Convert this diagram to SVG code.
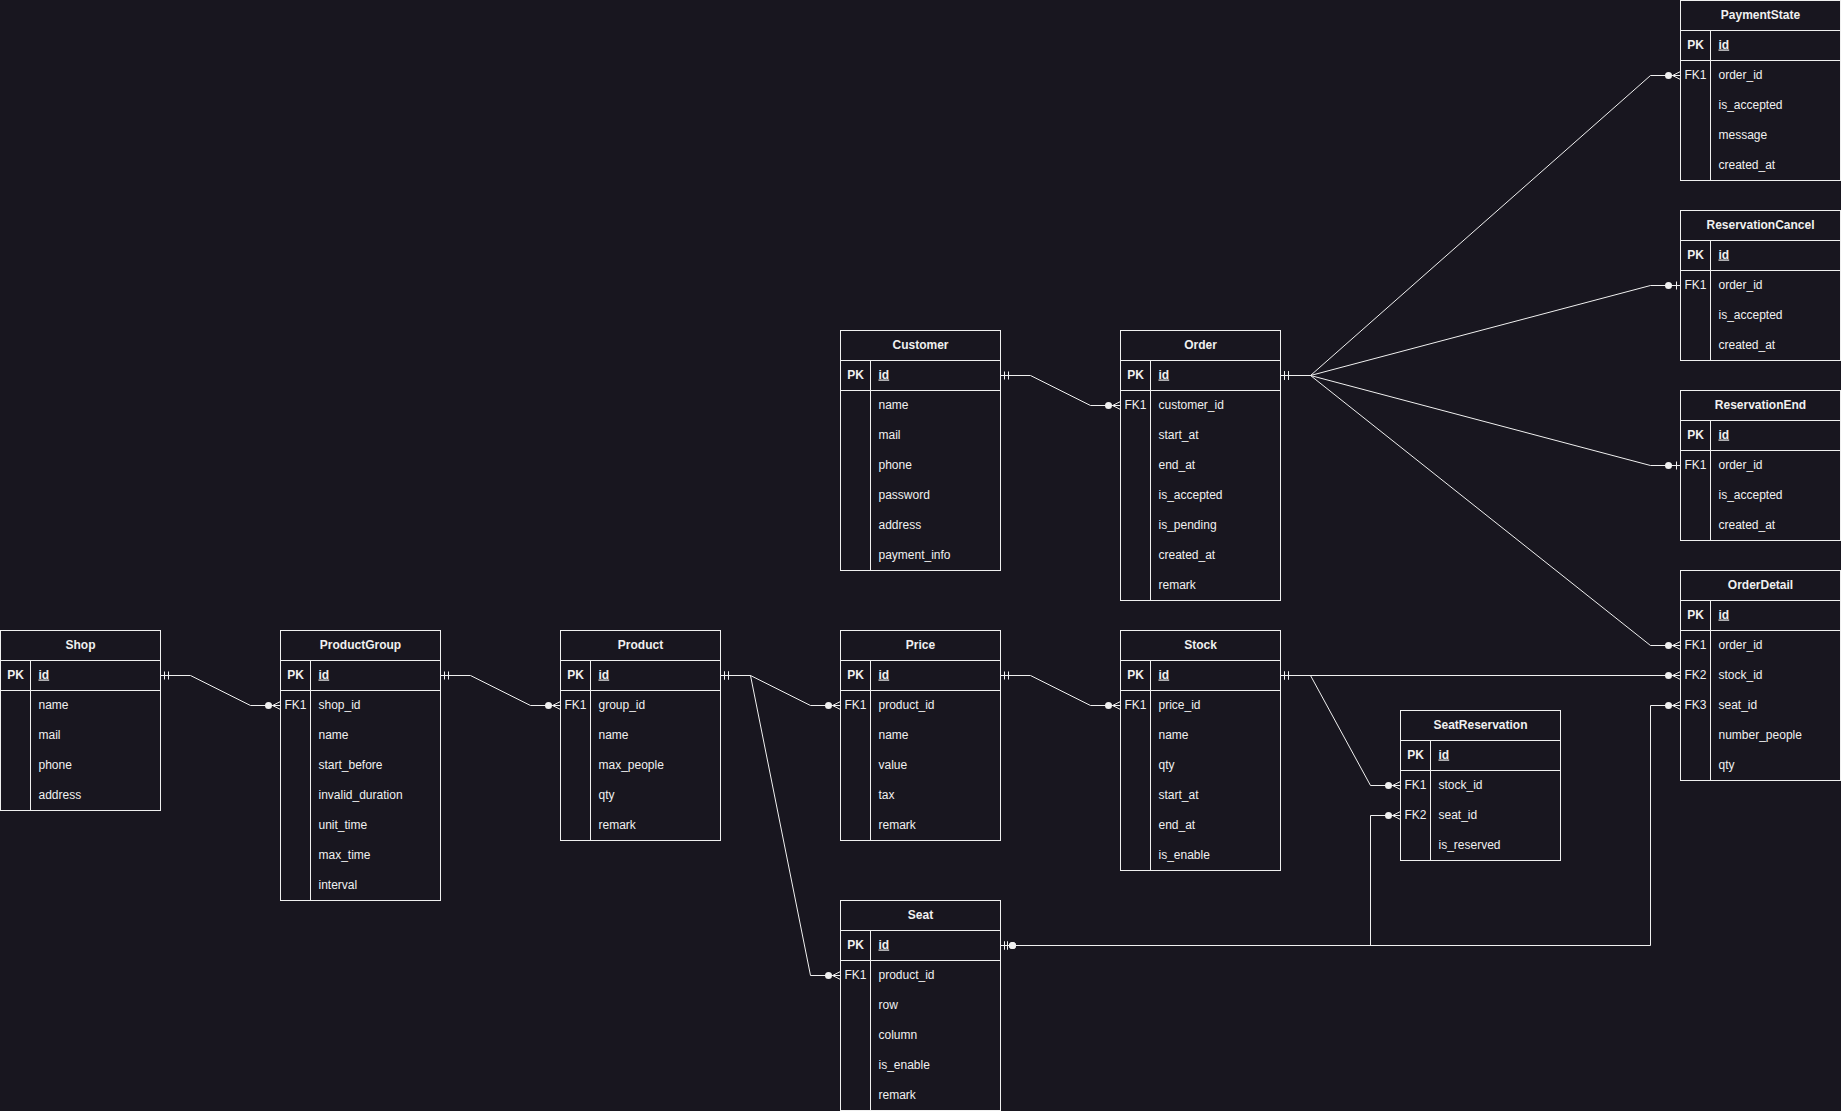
<svg xmlns="http://www.w3.org/2000/svg" width="1841" height="1111" viewBox="0 0 1841 1111">
<style>
.bg{fill:#18161f}
.tb{fill:#18161f;stroke:#f0f0f0;stroke-width:1}
.sep{stroke:#f0f0f0;stroke-width:1;fill:none}
text{font-family:"Liberation Sans",Arial,Helvetica,sans-serif;font-size:12px;fill:#f0f0f0}
.t{font-weight:bold;text-anchor:middle}
.k{text-anchor:middle}
.kb{text-anchor:middle;font-weight:bold}
.pk{font-weight:bold;text-decoration:underline}
.e{fill:none;stroke:#f0f0f0;stroke-width:1}
.m{fill:none;stroke:#f0f0f0;stroke-width:1}
.dot{fill:#f0f0f0;stroke:none}
</style>
<defs>
<marker id="mandOne" markerUnits="userSpaceOnUse" markerWidth="24" markerHeight="20" viewBox="-2 -10 24 20" refX="0" refY="0" orient="auto" overflow="visible">
<path class="m" d="M4,-4V4M8,-4V4"/>
</marker>
<marker id="seatStart" markerUnits="userSpaceOnUse" markerWidth="24" markerHeight="20" viewBox="-2 -10 24 20" refX="0" refY="0" orient="auto" overflow="visible">
<path class="m" d="M4,-4V4M7,-4V4"/>
<circle class="dot" cx="12" cy="0" r="3.5"/>
</marker>
<marker id="zeroMany" markerUnits="userSpaceOnUse" markerWidth="24" markerHeight="20" viewBox="-20 -10 24 20" refX="0" refY="0" orient="auto" overflow="visible">
<path class="m" d="M-8,0L0,-4M-8,0L0,0M-8,0L0,4"/>
<circle class="dot" cx="-12" cy="0" r="3.5"/>
</marker>
<marker id="zeroOne" markerUnits="userSpaceOnUse" markerWidth="24" markerHeight="20" viewBox="-20 -10 24 20" refX="0" refY="0" orient="auto" overflow="visible">
<path class="m" d="M-4,-4V4"/>
<circle class="dot" cx="-12" cy="0" r="3.5"/>
</marker>
</defs>
<rect class="bg" x="0" y="0" width="1841" height="1111"/>
<g transform="translate(0.5,0.5)">
<g id="connectors">
<path class="e" d="M160,675H190L250,705H280" marker-start="url(#mandOne)" marker-end="url(#zeroMany)"/>
<path class="e" d="M440,675H470L530,705H560" marker-start="url(#mandOne)" marker-end="url(#zeroMany)"/>
<path class="e" d="M720,675H750L810,705H840" marker-start="url(#mandOne)" marker-end="url(#zeroMany)"/>
<path class="e" d="M720,675H750L810,975H840" marker-start="url(#mandOne)" marker-end="url(#zeroMany)"/>
<path class="e" d="M1000,675H1030L1090,705H1120" marker-start="url(#mandOne)" marker-end="url(#zeroMany)"/>
<path class="e" d="M1000,375H1030L1090,405H1120" marker-start="url(#mandOne)" marker-end="url(#zeroMany)"/>
<path class="e" d="M1280,375H1310L1650,75H1680" marker-start="url(#mandOne)" marker-end="url(#zeroMany)"/>
<path class="e" d="M1280,375H1310L1650,285H1680" marker-start="url(#mandOne)" marker-end="url(#zeroOne)"/>
<path class="e" d="M1280,375H1310L1650,465H1680" marker-start="url(#mandOne)" marker-end="url(#zeroOne)"/>
<path class="e" d="M1280,375H1310L1650,645H1680" marker-start="url(#mandOne)" marker-end="url(#zeroMany)"/>
<path class="e" d="M1280,675H1680" marker-start="url(#mandOne)" marker-end="url(#zeroMany)"/>
<path class="e" d="M1280,675H1310L1370,785H1400" marker-start="url(#mandOne)" marker-end="url(#zeroMany)"/>
<path class="e" d="M1000,945H1370V815H1400" marker-start="url(#seatStart)" marker-end="url(#zeroMany)"/>
<path class="e" d="M1000,945H1650V705H1680" marker-start="url(#seatStart)" marker-end="url(#zeroMany)"/>
</g>

<g id="shop" transform="translate(0,630)">
<rect class="tb" x="0" y="0" width="160" height="180"/>
<path class="sep" d="M0,30H160M0,60H160M30,30V180"/>
<text class="t" x="80" y="18">Shop</text>
<text class="kb" x="15" y="48">PK</text><text class="pk" x="38" y="48">id</text>
<text x="38" y="78">name</text>
<text x="38" y="108">mail</text>
<text x="38" y="138">phone</text>
<text x="38" y="168">address</text>
</g>

<g id="productgroup" transform="translate(280,630)">
<rect class="tb" x="0" y="0" width="160" height="270"/>
<path class="sep" d="M0,30H160M0,60H160M30,30V270"/>
<text class="t" x="80" y="18">ProductGroup</text>
<text class="kb" x="15" y="48">PK</text><text class="pk" x="38" y="48">id</text>
<text class="k" x="15" y="78">FK1</text><text x="38" y="78">shop_id</text>
<text x="38" y="108">name</text>
<text x="38" y="138">start_before</text>
<text x="38" y="168">invalid_duration</text>
<text x="38" y="198">unit_time</text>
<text x="38" y="228">max_time</text>
<text x="38" y="258">interval</text>
</g>

<g id="product" transform="translate(560,630)">
<rect class="tb" x="0" y="0" width="160" height="210"/>
<path class="sep" d="M0,30H160M0,60H160M30,30V210"/>
<text class="t" x="80" y="18">Product</text>
<text class="kb" x="15" y="48">PK</text><text class="pk" x="38" y="48">id</text>
<text class="k" x="15" y="78">FK1</text><text x="38" y="78">group_id</text>
<text x="38" y="108">name</text>
<text x="38" y="138">max_people</text>
<text x="38" y="168">qty</text>
<text x="38" y="198">remark</text>
</g>

<g id="price" transform="translate(840,630)">
<rect class="tb" x="0" y="0" width="160" height="210"/>
<path class="sep" d="M0,30H160M0,60H160M30,30V210"/>
<text class="t" x="80" y="18">Price</text>
<text class="kb" x="15" y="48">PK</text><text class="pk" x="38" y="48">id</text>
<text class="k" x="15" y="78">FK1</text><text x="38" y="78">product_id</text>
<text x="38" y="108">name</text>
<text x="38" y="138">value</text>
<text x="38" y="168">tax</text>
<text x="38" y="198">remark</text>
</g>

<g id="stock" transform="translate(1120,630)">
<rect class="tb" x="0" y="0" width="160" height="240"/>
<path class="sep" d="M0,30H160M0,60H160M30,30V240"/>
<text class="t" x="80" y="18">Stock</text>
<text class="kb" x="15" y="48">PK</text><text class="pk" x="38" y="48">id</text>
<text class="k" x="15" y="78">FK1</text><text x="38" y="78">price_id</text>
<text x="38" y="108">name</text>
<text x="38" y="138">qty</text>
<text x="38" y="168">start_at</text>
<text x="38" y="198">end_at</text>
<text x="38" y="228">is_enable</text>
</g>

<g id="customer" transform="translate(840,330)">
<rect class="tb" x="0" y="0" width="160" height="240"/>
<path class="sep" d="M0,30H160M0,60H160M30,30V240"/>
<text class="t" x="80" y="18">Customer</text>
<text class="kb" x="15" y="48">PK</text><text class="pk" x="38" y="48">id</text>
<text x="38" y="78">name</text>
<text x="38" y="108">mail</text>
<text x="38" y="138">phone</text>
<text x="38" y="168">password</text>
<text x="38" y="198">address</text>
<text x="38" y="228">payment_info</text>
</g>

<g id="order" transform="translate(1120,330)">
<rect class="tb" x="0" y="0" width="160" height="270"/>
<path class="sep" d="M0,30H160M0,60H160M30,30V270"/>
<text class="t" x="80" y="18">Order</text>
<text class="kb" x="15" y="48">PK</text><text class="pk" x="38" y="48">id</text>
<text class="k" x="15" y="78">FK1</text><text x="38" y="78">customer_id</text>
<text x="38" y="108">start_at</text>
<text x="38" y="138">end_at</text>
<text x="38" y="168">is_accepted</text>
<text x="38" y="198">is_pending</text>
<text x="38" y="228">created_at</text>
<text x="38" y="258">remark</text>
</g>

<g id="seat" transform="translate(840,900)">
<rect class="tb" x="0" y="0" width="160" height="210"/>
<path class="sep" d="M0,30H160M0,60H160M30,30V210"/>
<text class="t" x="80" y="18">Seat</text>
<text class="kb" x="15" y="48">PK</text><text class="pk" x="38" y="48">id</text>
<text class="k" x="15" y="78">FK1</text><text x="38" y="78">product_id</text>
<text x="38" y="108">row</text>
<text x="38" y="138">column</text>
<text x="38" y="168">is_enable</text>
<text x="38" y="198">remark</text>
</g>

<g id="seatreservation" transform="translate(1400,710)">
<rect class="tb" x="0" y="0" width="160" height="150"/>
<path class="sep" d="M0,30H160M0,60H160M30,30V150"/>
<text class="t" x="80" y="18">SeatReservation</text>
<text class="kb" x="15" y="48">PK</text><text class="pk" x="38" y="48">id</text>
<text class="k" x="15" y="78">FK1</text><text x="38" y="78">stock_id</text>
<text class="k" x="15" y="108">FK2</text><text x="38" y="108">seat_id</text>
<text x="38" y="138">is_reserved</text>
</g>

<g id="paymentstate" transform="translate(1680,0)">
<rect class="tb" x="0" y="0" width="160" height="180"/>
<path class="sep" d="M0,30H160M0,60H160M30,30V180"/>
<text class="t" x="80" y="18">PaymentState</text>
<text class="kb" x="15" y="48">PK</text><text class="pk" x="38" y="48">id</text>
<text class="k" x="15" y="78">FK1</text><text x="38" y="78">order_id</text>
<text x="38" y="108">is_accepted</text>
<text x="38" y="138">message</text>
<text x="38" y="168">created_at</text>
</g>

<g id="reservationcancel" transform="translate(1680,210)">
<rect class="tb" x="0" y="0" width="160" height="150"/>
<path class="sep" d="M0,30H160M0,60H160M30,30V150"/>
<text class="t" x="80" y="18">ReservationCancel</text>
<text class="kb" x="15" y="48">PK</text><text class="pk" x="38" y="48">id</text>
<text class="k" x="15" y="78">FK1</text><text x="38" y="78">order_id</text>
<text x="38" y="108">is_accepted</text>
<text x="38" y="138">created_at</text>
</g>

<g id="reservationend" transform="translate(1680,390)">
<rect class="tb" x="0" y="0" width="160" height="150"/>
<path class="sep" d="M0,30H160M0,60H160M30,30V150"/>
<text class="t" x="80" y="18">ReservationEnd</text>
<text class="kb" x="15" y="48">PK</text><text class="pk" x="38" y="48">id</text>
<text class="k" x="15" y="78">FK1</text><text x="38" y="78">order_id</text>
<text x="38" y="108">is_accepted</text>
<text x="38" y="138">created_at</text>
</g>

<g id="orderdetail" transform="translate(1680,570)">
<rect class="tb" x="0" y="0" width="160" height="210"/>
<path class="sep" d="M0,30H160M0,60H160M30,30V210"/>
<text class="t" x="80" y="18">OrderDetail</text>
<text class="kb" x="15" y="48">PK</text><text class="pk" x="38" y="48">id</text>
<text class="k" x="15" y="78">FK1</text><text x="38" y="78">order_id</text>
<text class="k" x="15" y="108">FK2</text><text x="38" y="108">stock_id</text>
<text class="k" x="15" y="138">FK3</text><text x="38" y="138">seat_id</text>
<text x="38" y="168">number_people</text>
<text x="38" y="198">qty</text>
</g>
</g>
</svg>
